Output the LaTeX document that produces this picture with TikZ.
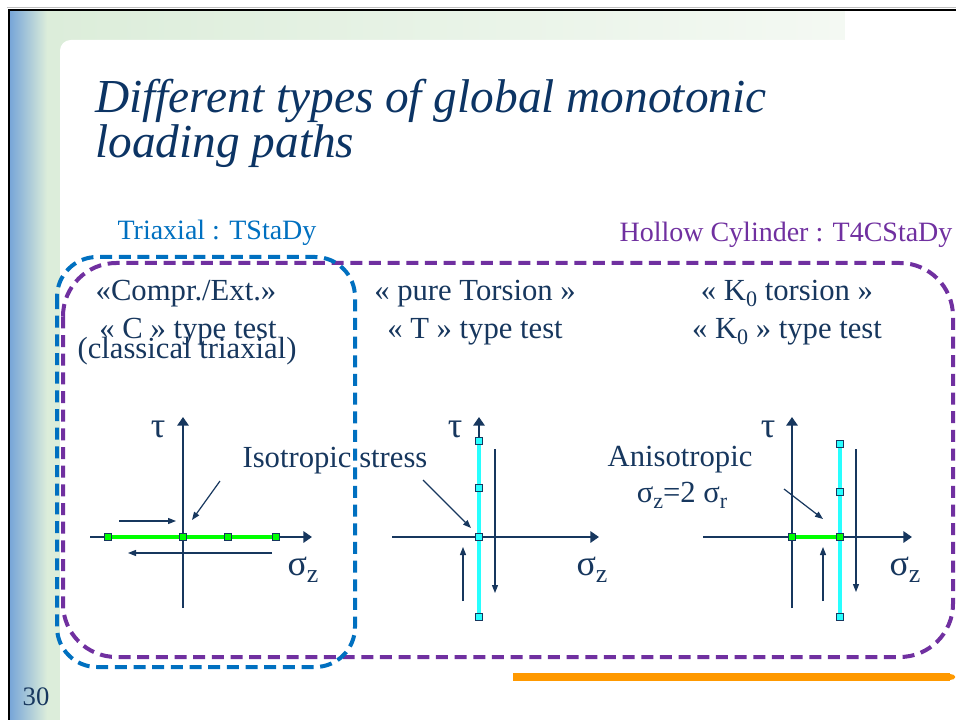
\documentclass[tikz,border=0pt]{standalone}
\usepackage{fontspec}
\setmainfont{Liberation Serif}
\usetikzlibrary{arrows.meta}
\definecolor{navy}{RGB}{23,55,94}
\definecolor{titlenavy}{RGB}{12,52,100}
\definecolor{triblue}{RGB}{0,112,192}
\definecolor{hcpurple}{RGB}{112,48,160}
\definecolor{barblue}{RGB}{120,166,216}
\definecolor{palegreen}{RGB}{220,237,218}
\definecolor{fadegreen}{RGB}{244,249,243}
\definecolor{pathgreen}{RGB}{0,255,0}
\definecolor{pathcyan}{RGB}{40,255,255}
\definecolor{slideorange}{RGB}{255,153,0}
\newcommand{\sz}[1]{\fontsize{#1}{#1}\selectfont}
\newcommand{\sub}[1]{\raisebox{-0.22em}{\scalebox{0.72}{#1}}}
\tikzset{
  txt/.style={inner sep=0pt, text=navy, font=\sz{23}, anchor=base},
  greek/.style={inner sep=0pt, text=navy, font=\sz{27}, anchor=base},
  axis/.style={draw=navy, line width=1.9pt, -{Triangle[length=6.5pt,width=8.5pt]}},
  plain axis/.style={draw=navy, line width=1.9pt},
  move/.style={draw=navy, line width=0.9pt, -{Triangle[length=6pt,width=4.5pt]}},
  gsq/.style={draw=navy, fill=pathgreen, line width=0.5pt, minimum size=5.3pt, inner sep=0pt},
  csq/.style={draw=navy, fill=pathcyan, line width=0.5pt, minimum size=5.3pt, inner sep=0pt},
  gpath/.style={draw=pathgreen, line width=3pt},
  cpath/.style={draw=pathcyan, line width=2.3pt},
  group/.style={line width=3pt, dash pattern=on 9pt off 5pt},
}
\begin{document}
\begin{tikzpicture}[x=0.75pt,y=-0.75pt]
\useasboundingbox (0,0) rectangle (956,720);

% slide background: left bar, top band, white panel
\fill[white] (0,0) rectangle (956,720);
\fill[palegreen] (10,10) rectangle (956,720);
\shade[left color=barblue, right color=palegreen] (10,10) rectangle (47,720);
\shade[left color=palegreen, right color=fadegreen] (47,10) rectangle (845,40);
\fill[white] (845,10) rectangle (956,40);
\fill[white, rounded corners=8pt] (60,40) rectangle (980,740);
\draw[black, line width=2.2pt] (9,720) -- (9,10) -- (956,10);
\draw[black!25, line width=0.5pt] (7,7.5) -- (956,7.5);

% title
\node[inner sep=0pt, anchor=base west, text=titlenavy, font=\sz{35.5}\itshape] (title1) at (95,113) {Different types of global monotonic};
\node[inner sep=0pt, anchor=base west, text=titlenavy, font=\sz{35.5}\itshape] (title2) at (95,158) {loading paths};

% page number
\node[inner sep=0pt, anchor=base, text=navy, font=\sz{20}] (pagenum) at (36,705) {30};

% bottom orange rule
\coordinate (ruleA) at (513,677);
\coordinate (ruleB) at (950,677);
\draw[slideorange, line width=6pt] (ruleA) -- (ruleB);
\fill[slideorange] (950,674) arc[start angle=90, end angle=-90, x radius=4pt, y radius=2.25pt] -- cycle;

% device groups
\draw[hcpurple, group, rounded corners=40pt] (63,263) rectangle (953,657);
\draw[triblue, group, rounded corners=30pt] (57,257) rectangle (355,667);
\node[inner sep=0pt, anchor=base, text=triblue, font=\sz{21}] (trilabel) at (217,240) {Triaxial : TStaDy};
\node[inner sep=0pt, anchor=base, text=hcpurple, font=\sz{21}] (hclabel) at (786,242) {Hollow Cylinder : T4CStaDy};

% test type headings
\node[txt] (c1) at (186,300) {«Compr./Ext.»};
\node[txt] (c2) at (188,338) {« C » type test};
\node[txt] (c3) at (187,358) {(classical triaxial)};
\node[txt] (t1) at (475,300) {« pure Torsion »};
\node[txt] (t2) at (475,338) {« T » type test};
\node[txt] (k1) at (787,300) {« K\sub{0} torsion »};
\node[txt] (k2) at (787,338) {« K\sub{0} » type test};

% ---------- C test diagram ----------
\coordinate (aL) at (90,537);  \coordinate (aR) at (312,537);
\coordinate (aB) at (183,608); \coordinate (aT) at (183,417);
\draw[axis] (aL) -- (aR);
\draw[axis] (aB) -- (aT);
\node[gsq] (g1) at (108,537) {};
\node[gsq] (g2) at (183,537) {};
\node[gsq] (g3) at (228,537) {};
\node[gsq] (g4) at (276,537) {};
\draw[gpath] (g1) -- (g4);
\node[gsq] at (g1) {}; \node[gsq] at (g2) {}; \node[gsq] at (g3) {}; \node[gsq] at (g4) {};
\coordinate (m1a) at (119,521); \coordinate (m1b) at (176,521);
\coordinate (m2a) at (272,553); \coordinate (m2b) at (128,553);
\draw[move] (m1a) -- (m1b);
\draw[move] (m2a) -- (m2b);
\node[greek] (tau1) at (158,437) {τ};
\node[greek] (sig1) at (303,575) {σ\sub{z}};
\node[txt] (iso) at (335,467) {Isotropic stress};
\coordinate (isoA) at (220,481); \coordinate (isoB) at (192,520);
\draw[move] (isoA) -- (isoB);

% ---------- T test diagram ----------
\coordinate (bL) at (392,537); \coordinate (bR) at (599,537);
\coordinate (bB) at (479,608); \coordinate (bT) at (479,417);
\draw[axis] (bL) -- (bR);
\draw[axis] (bB) -- (bT);
\node[csq] (c1t) at (479,441) {};
\node[csq] (c2t) at (479,488) {};
\node[csq] (c3t) at (479,537) {};
\node[csq] (c4t) at (479,617) {};
\draw[cpath] (c1t) -- (c4t);
\node[csq] at (c1t) {}; \node[csq] at (c2t) {}; \node[csq] at (c3t) {}; \node[csq] at (c4t) {};
\coordinate (m3a) at (495,449); \coordinate (m3b) at (495,593);
\coordinate (m4a) at (463,601); \coordinate (m4b) at (463,547);
\draw[move] (m3a) -- (m3b);
\draw[move] (m4a) -- (m4b);
\coordinate (isoC) at (423,480); \coordinate (isoD) at (471,528);
\draw[move] (isoC) -- (isoD);
\node[greek] (tau2) at (455,437) {τ};
\node[greek] (sig2) at (592,575) {σ\sub{z}};

% ---------- K0 test diagram ----------
\coordinate (cL) at (703,537); \coordinate (cR) at (912,537);
\coordinate (cB) at (792,608); \coordinate (cT) at (792,417);
\draw[axis] (cL) -- (cR);
\draw[axis] (cB) -- (cT);
\node[csq] (k1t) at (840,444) {};
\node[csq] (k2t) at (840,492) {};
\node[csq] (k4t) at (840,617) {};
\node[gsq] (kg1) at (792,537) {};
\node[gsq] (kg2) at (840,537) {};
\draw[cpath] (k1t) -- (k4t);
\draw[gpath] (kg1) -- (kg2);
\node[csq] at (k1t) {}; \node[csq] at (k2t) {}; \node[csq] at (k4t) {};
\node[gsq] at (kg1) {}; \node[gsq] at (kg2) {};
\coordinate (m5a) at (856,449); \coordinate (m5b) at (856,592);
\coordinate (m6a) at (823,601); \coordinate (m6b) at (823,547);
\draw[move] (m5a) -- (m5b);
\draw[move] (m6a) -- (m6b);
\node[greek] (tau3) at (768,437) {τ};
\node[greek] (sig3) at (905,575) {σ\sub{z}};
\node[txt] (aniso1) at (680,466) {Anisotropic};
\node[txt] (aniso2) at (682,502) {σ\sub{z}=2 σ\sub{r}};
\coordinate (anA) at (784,489); \coordinate (anB) at (823,519);
\draw[move] (anA) -- (anB);
\end{tikzpicture}
\end{document}
